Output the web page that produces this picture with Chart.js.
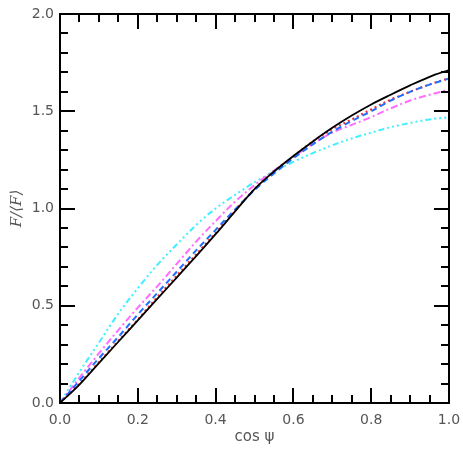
<!DOCTYPE html>
<html>
<head>
<meta charset="utf-8">
<script src="https://cdn.jsdelivr.net/npm/chart.js@4"></script>
<style>
  html, body { margin: 0; padding: 0; background: #fff; }
  #wrap { width: 463px; height: 463px; }
</style>
</head>
<body>
<div id="wrap"><canvas id="fluxChart" width="463" height="463"></canvas></div>
<script>
'use strict'

// values
const cosPsi = [0.0, 0.05, 0.1, 0.15, 0.2, 0.25, 0.3, 0.35, 0.4, 0.45, 0.5,
                0.55, 0.6, 0.65, 0.7, 0.75, 0.8, 0.85, 0.9, 0.95, 1.0];

const fluxSolid   = [0.0, 0.095, 0.205, 0.315, 0.425, 0.535, 0.645, 0.755, 0.868, 0.985, 1.10,
                     1.19, 1.27, 1.345, 1.415, 1.478, 1.535, 1.585, 1.633, 1.677, 1.712];
const fluxDotted  = [0.0, 0.10, 0.21, 0.32, 0.43, 0.545, 0.655, 0.765, 0.875, 0.99, 1.10,
                     1.19, 1.268, 1.345, 1.408, 1.458, 1.51, 1.56, 1.60, 1.638, 1.67];
const fluxDashed  = [0.0, 0.115, 0.23, 0.34, 0.455, 0.565, 0.675, 0.785, 0.89, 0.995, 1.095,
                     1.18, 1.258, 1.33, 1.395, 1.45, 1.50, 1.555, 1.60, 1.637, 1.668];
const fluxDashDot = [0.0, 0.13, 0.255, 0.375, 0.49, 0.60, 0.715, 0.83, 0.935, 1.035, 1.12,
                     1.195, 1.265, 1.333, 1.39, 1.43, 1.47, 1.515, 1.555, 1.585, 1.61];
const fluxDashDot3 = [0.0, 0.16, 0.31, 0.46, 0.59, 0.71, 0.815, 0.915, 1.0, 1.07, 1.135,
                      1.19, 1.24, 1.285, 1.325, 1.36, 1.39, 1.418, 1.44, 1.458, 1.47];

const xTickLabels = ['0.0', '0.2', '0.4', '0.6', '0.8', '1.0'];
const yTickLabels = ['0.0', '0.5', '1.0', '1.5', '2.0'];

function pts(ys) {
    return cosPsi.map((x, i) => ({ x: x, y: ys[i] }));
}

function line(label, ys, color, dash, width) {
    return {
        label: label,
        data: pts(ys),
        borderColor: color,
        borderWidth: width,
        borderDash: dash,
        pointRadius: 0,
        fill: false,
        cubicInterpolationMode: 'monotone'
    };
}

// inward ticks on all four sides, major + minor
const frameTicks = {
    id: 'frameTicks',
    afterDatasetsDraw(chart) {
        const ctx = chart.ctx;
        const a = chart.chartArea;
        const xs = chart.scales.x, ys = chart.scales.y;
        ctx.save();
        ctx.strokeStyle = '#000';
        ctx.lineWidth = 2;
        ctx.beginPath();
        for (let i = 0; i <= 20; i++) {
            const v = i * 0.05;
            const len = (i % 4 === 0) ? 15 : 8;
            const px = Math.round(xs.getPixelForValue(v));
            ctx.moveTo(px, a.bottom); ctx.lineTo(px, a.bottom - len);
            ctx.moveTo(px, a.top); ctx.lineTo(px, a.top + len);
        }
        for (let i = 0; i <= 20; i++) {
            const v = i * 0.1;
            const len = (i % 5 === 0) ? 15 : 8;
            const py = Math.round(ys.getPixelForValue(v));
            ctx.moveTo(a.left, py); ctx.lineTo(a.left + len, py);
            ctx.moveTo(a.right, py); ctx.lineTo(a.right - len, py);
        }
        ctx.stroke();
        ctx.strokeRect(a.left, a.top, a.right - a.left, a.bottom - a.top);
        ctx.restore();
    }
};

const ctx = document.getElementById('fluxChart');
new Chart(ctx, {
    type: 'line',
    data: {
        datasets: [
            line('solid', fluxSolid, '#000000', [], 1.8),
            line('dashed', fluxDashed, '#1f6fff', [6, 4], 2),
            line('dotted', fluxDotted, '#ff2a2a', [2, 3], 2),
            line('dash-dot', fluxDashDot, '#ff6cff', [7, 3, 2, 3], 2),
            line('dash-dot-dot', fluxDashDot3, '#3ff0ff', [6, 3, 2, 3, 2, 3, 2, 3], 2)
        ]
    },
    plugins: [frameTicks],
    options: {
        responsive: false,
        animation: false,
        layout: { padding: { top: 14, right: 14, left: 0, bottom: 0 } },
        plugins: {
            legend: { display: false },
            tooltip: { enabled: false }
        },
        scales: {
            x: {
                type: 'linear',
                min: 0, max: 1,
                afterFit: s => { s.height = 60; s.paddingLeft = 0; s.paddingRight = 0; },
                afterBuildTicks: s => { s.ticks = xTickLabels.map(t => ({ value: parseFloat(t) })); },
                ticks: {
                    color: '#555',
                    font: { family: 'DejaVu Sans', size: 14 },
                    padding: 9,
                    maxRotation: 0,
                    callback: (v, i) => xTickLabels[i]
                },
                grid: { display: false, drawTicks: false },
                border: { display: false },
                title: {
                    display: true,
                    text: 'cos ψ',
                    color: '#555',
                    font: { family: 'DejaVu Sans', size: 15 },
                    padding: { top: 0, bottom: 17 }
                }
            },
            y: {
                type: 'linear',
                min: 0, max: 2,
                afterFit: s => { s.width = 60; s.paddingTop = 0; s.paddingBottom = 0; },
                afterBuildTicks: s => { s.ticks = yTickLabels.map(t => ({ value: parseFloat(t) })); },
                ticks: {
                    color: '#555',
                    font: { family: 'DejaVu Sans', size: 14 },
                    padding: 6,
                    callback: (v, i) => yTickLabels[i]
                },
                grid: { display: false, drawTicks: false },
                border: { display: false },
                title: {
                    display: true,
                    text: 'F/⟨F⟩',
                    color: '#555',
                    font: { family: 'DejaVu Serif', size: 15, style: 'italic' },
                    padding: { top: 8, bottom: 0 }
                }
            }
        }
    }
});
</script>
</body>
</html>
